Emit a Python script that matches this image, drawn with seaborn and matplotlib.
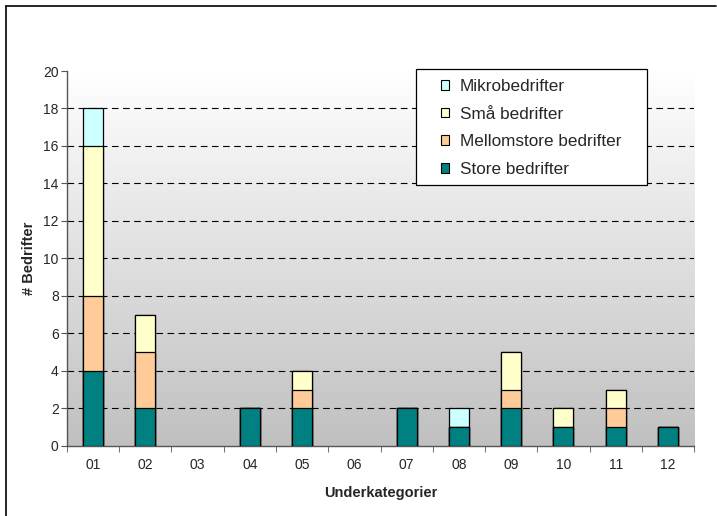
import numpy as np
import pandas as pd
import matplotlib
matplotlib.use('Agg')
import matplotlib.pyplot as plt
import seaborn as sns
from matplotlib.patches import Patch, Rectangle
from matplotlib.lines import Line2D

# Data
categories = ['01', '02', '03', '04', '05', '06', '07', '08', '09', '10', '11', '12']
store = [4, 2, 0, 2, 2, 0, 2, 1, 2, 1, 1, 1]
mellomstore = [4, 3, 0, 0, 1, 0, 0, 0, 1, 0, 1, 0]
smaa = [8, 2, 0, 0, 1, 0, 0, 0, 2, 1, 1, 0]
mikro = [2, 0, 0, 0, 0, 0, 0, 1, 0, 0, 0, 0]

series_names = ['Store bedrifter', 'Mellomstore bedrifter', 'Små bedrifter', 'Mikrobedrifter']
series_colors = ['#008080', '#FFCC99', '#FFFFCC', '#CCFFFF']

sns.set_style('white')
plt.rcParams['font.family'] = ['Liberation Sans', 'DejaVu Sans']

fig = plt.figure(figsize=(7.17, 5.16), dpi=100)
ax = fig.add_axes([0.0934, 0.1357, 0.8746, 0.7267])

# gradient background (grey at top, white at bottom)
grad = np.linspace(0, 1, 256).reshape(-1, 1)
cmap = matplotlib.colors.LinearSegmentedColormap.from_list('bg', ['#C0C0C0', '#FFFFFF'])
ax.imshow(grad, aspect='auto', cmap=cmap, extent=[-0.5, 11.5, 20, 0], zorder=0)

# stacked bars: draw cumulative totals from top layer downwards
df = pd.DataFrame({'cat': categories, 'Store bedrifter': store,
                   'Mellomstore bedrifter': mellomstore,
                   'Små bedrifter': smaa, 'Mikrobedrifter': mikro})
cum = df[series_names].cumsum(axis=1).replace(0, np.nan)
for name, col in reversed(list(zip(series_names, series_colors))):
    sns.barplot(x=df['cat'], y=cum[name], order=categories, color=col,
                width=0.38, edgecolor='black', linewidth=0.9,
                saturation=1, ax=ax, zorder=3)

ax.set_xlim(-0.5, 11.5)
ax.set_ylim(0, 20)
ax.set_yticks(range(0, 21, 2))
for y in range(2, 20, 2):
    ax.axhline(y, color='black', linestyle=(0, (6, 4)), linewidth=0.8, zorder=1)

ax.set_xticks(range(len(categories)))
ax.set_xticklabels(categories)
ax.set_xticks(np.arange(-0.5, 12, 1), minor=True)
ax.tick_params(axis='x', which='major', length=0, pad=9, labelsize=10)
ax.tick_params(axis='x', which='minor', length=4, direction='out', color='#555555', bottom=True)
ax.tick_params(axis='y', length=4, direction='out', color='#555555', left=True, labelsize=10, pad=2)

for s in ['top', 'right']:
    ax.spines[s].set_visible(False)
ax.spines['left'].set_color('#555555')
ax.spines['bottom'].set_color('#555555')
ax.spines['left'].set_linewidth(1.0)
ax.spines['bottom'].set_linewidth(1.0)

ax.set_xlabel('Underkategorier', fontsize=10.5, fontweight='bold', labelpad=10)
ax.set_ylabel('# Bedrifter', fontsize=10.5, fontweight='bold', labelpad=5)

# legend box
ax.add_artist(Rectangle((0.580, 0.6415), 0.322, 0.2248, transform=fig.transFigure,
                        facecolor='white', edgecolor='black', linewidth=0.9,
                        zorder=4, clip_on=False))
handles = [Patch(facecolor=c, edgecolor='black', linewidth=0.8, label=n)
           for n, c in zip(series_names, series_colors)][::-1]
leg = ax.legend(handles=handles, loc='upper left', bbox_to_anchor=(0.615, 0.847),
                bbox_transform=fig.transFigure, fontsize=12.3, frameon=False,
                handlelength=0.5, handleheight=0.5, handletextpad=0.6,
                labelspacing=0.74, borderpad=0, borderaxespad=0)
leg.set_zorder(5)

# outer chart border (left and top)
fig.add_artist(Line2D([0.0084, 0.0084], [0, 0.988], transform=fig.transFigure, color='black', linewidth=1.2))
fig.add_artist(Line2D([0.0084, 0.999], [0.988, 0.988], transform=fig.transFigure, color='black', linewidth=1.2))

fig.savefig('out.png', dpi=100)
